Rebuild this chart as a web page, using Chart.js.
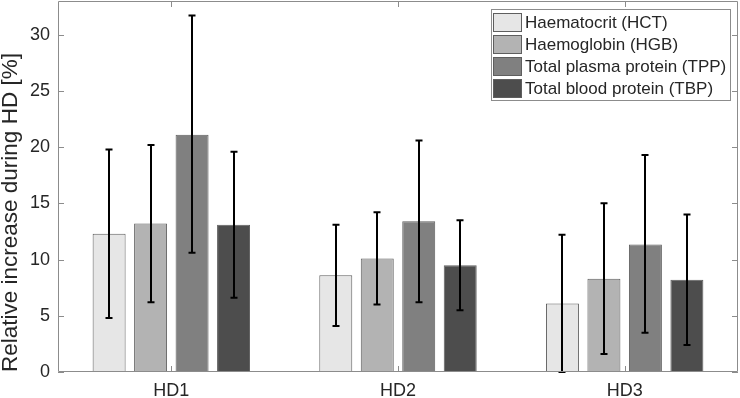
<!DOCTYPE html>
<html>
<head>
<meta charset="utf-8">
<script src="https://cdn.jsdelivr.net/npm/chart.js@4.4.0/dist/chart.umd.min.js"></script>
<style>
html, body { margin: 0; padding: 0; background: #fff; }
#wrap { width: 740px; height: 398px; position: relative; }
</style>
</head>
<body>
<div id="wrap"><canvas id="myChart"></canvas></div>
<script>
// data
var categories = ['HD1', 'HD2', 'HD3'];
var seriesNames = ['Haematocrit (HCT)', 'Haemoglobin (HGB)', 'Total plasma protein (TPP)', 'Total blood protein (TBP)'];

var hct = [12.3, 8.6, 6.1];
var hctLow = [4.8, 4.1, 0.0];
var hctHigh = [19.8, 13.1, 12.2];

var hgb = [13.2, 10.1, 8.3];
var hgbLow = [6.2, 6.0, 1.6];
var hgbHigh = [20.2, 14.2, 15.0];

var tpp = [21.1, 13.4, 11.35];
var tppLow = [10.6, 6.2, 3.5];
var tppHigh = [31.7, 20.6, 19.3];

var tbp = [13.1, 9.5, 8.2];
var tbpLow = [6.6, 5.5, 2.4];
var tbpHigh = [19.6, 13.5, 14.0];

var yTicks = [0, 5, 10, 15, 20, 25, 30];

var colors = ['#e6e6e6', '#b3b3b3', '#808080', '#4d4d4d'];
var axisColor = '#8c8c8c';
var textColor = '#262626';
var fontFamily = '"Liberation Sans", Arial, sans-serif';

function makeSet(i, values, low, high) {
    return {
        label: seriesNames[i],
        data: values,
        errLow: low,
        errHigh: high,
        backgroundColor: colors[i],
        borderColor: '#5e5e5e',
        borderWidth: 1,
        borderSkipped: false,
        categoryPercentage: 0.732,
        barPercentage: 0.795
    };
}

// error bars, drawn from the scale
var errorBars = {
    id: 'errorBars',
    afterDatasetsDraw: function(chart) {
        var ctx = chart.ctx;
        var y = chart.scales.y;
        ctx.save();
        ctx.strokeStyle = '#000';
        ctx.lineWidth = 2;
        chart.data.datasets.forEach(function(ds, i) {
            var meta = chart.getDatasetMeta(i);
            meta.data.forEach(function(bar, j) {
                var top = y.getPixelForValue(ds.errHigh[j]);
                var bot = y.getPixelForValue(ds.errLow[j]);
                var x = Math.round(bar.x);
                ctx.beginPath();
                ctx.moveTo(x, top);
                ctx.lineTo(x, bot);
                ctx.moveTo(x - 3.5, top);
                ctx.lineTo(x + 3.5, top);
                ctx.moveTo(x - 3.5, bot);
                ctx.lineTo(x + 3.5, bot);
                ctx.stroke();
            });
        });
        ctx.restore();
    }
};

// box round the plot with inward ticks on all sides
var frame = {
    id: 'frame',
    afterDraw: function(chart) {
        var ctx = chart.ctx;
        var a = chart.chartArea;
        var y = chart.scales.y;
        var x = chart.scales.x;
        ctx.save();
        ctx.strokeStyle = axisColor;
        ctx.lineWidth = 1;
        ctx.beginPath();
        ctx.rect(a.left + 0.5, a.top + 0.5, a.right - a.left - 1, a.bottom - a.top - 1);
        yTicks.forEach(function(v) {
            var py = Math.round(y.getPixelForValue(v)) + 0.5;
            ctx.moveTo(a.left, py);
            ctx.lineTo(a.left + 6, py);
            ctx.moveTo(a.right, py);
            ctx.lineTo(a.right - 6, py);
        });
        categories.forEach(function(c, i) {
            var px = Math.round(x.getPixelForValue(i)) + 0.5;
            ctx.moveTo(px, a.bottom);
            ctx.lineTo(px, a.bottom - 6);
            ctx.moveTo(px, a.top);
            ctx.lineTo(px, a.top + 6);
        });
        ctx.stroke();
        ctx.restore();
    }
};

// legend box in the top right corner
var boxLegend = {
    id: 'boxLegend',
    afterDraw: function(chart) {
        var ctx = chart.ctx;
        var a = chart.chartArea;
        var x0 = a.right - 247, y0 = a.top + 8;
        ctx.save();
        ctx.fillStyle = '#fff';
        ctx.fillRect(x0, y0, 239, 91);
        ctx.strokeStyle = axisColor;
        ctx.lineWidth = 1;
        ctx.strokeRect(x0 + 0.5, y0 + 0.5, 239, 91);
        ctx.font = '17px ' + fontFamily;
        ctx.textBaseline = 'middle';
        chart.data.datasets.forEach(function(ds, i) {
            var ry = y0 + 4 + i * 22;
            ctx.fillStyle = ds.backgroundColor;
            ctx.fillRect(x0 + 2, ry, 28, 18);
            ctx.strokeStyle = '#5e5e5e';
            ctx.strokeRect(x0 + 2.5, ry + 0.5, 28, 18);
            ctx.fillStyle = textColor;
            ctx.fillText(ds.label, x0 + 34, ry + 10);
        });
        ctx.restore();
    }
};

const ctx = document.getElementById('myChart');

var myChart = new Chart(ctx, {
    type: 'bar',
    data: {
        labels: categories,
        datasets: [
            makeSet(0, hct, hctLow, hctHigh),
            makeSet(1, hgb, hgbLow, hgbHigh),
            makeSet(2, tpp, tppLow, tppHigh),
            makeSet(3, tbp, tbpLow, tbpHigh)
        ]
    },
    options: {
        responsive: true,
        maintainAspectRatio: false,
        animation: false,
        layout: { padding: { top: 1, right: 2, left: 0, bottom: 0 } },
        plugins: {
            legend: { display: false },
            tooltip: { enabled: false }
        },
        scales: {
            x: {
                grid: { display: false, drawTicks: false },
                border: { display: false },
                ticks: {
                    color: textColor,
                    font: { family: fontFamily, size: 18 },
                    padding: 8
                },
                afterFit: function(s) {
                    s.height = 26;
                    s.paddingLeft = 0;
                    s.paddingRight = 0;
                }
            },
            y: {
                min: 0,
                max: 33,
                grid: { display: false, drawTicks: false },
                border: { display: false },
                afterBuildTicks: function(s) {
                    s.ticks = yTicks.map(function(v) { return { value: v }; });
                },
                ticks: {
                    color: textColor,
                    font: { family: fontFamily, size: 18 },
                    padding: 8
                },
                title: {
                    display: true,
                    text: 'Relative increase during HD [%]',
                    color: textColor,
                    align: 'start',
                    font: { family: fontFamily, size: 22.5 },
                    padding: { top: -3, bottom: 0 }
                },
                afterFit: function(s) {
                    s.width = 58;
                    s.paddingTop = 0;
                    s.paddingBottom = 0;
                }
            }
        }
    },
    plugins: [errorBars, frame, boxLegend]
});
</script>
</body>
</html>
